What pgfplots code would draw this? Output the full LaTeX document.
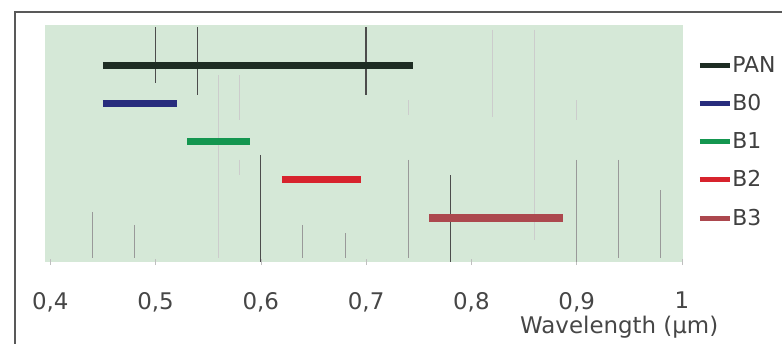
\documentclass[border=0pt]{standalone}
\usepackage{fontspec}
\setmainfont{DejaVu Sans}
\usepackage{pgfplots}
\pgfplotsset{compat=1.18}
\definecolor{bgc}{RGB}{213,232,215}
\definecolor{cpan}{RGB}{30,45,35}
\definecolor{cb0}{RGB}{40,45,125}
\definecolor{cb1}{RGB}{20,150,80}
\definecolor{cb2}{RGB}{215,35,45}
\definecolor{cb3}{RGB}{172,72,78}
\definecolor{txt}{RGB}{70,70,70}
\begin{document}
\begin{tikzpicture}[x=1bp,y=1bp]
\useasboundingbox (0,0) rectangle (782,343);
\draw[line width=2bp, color=black!65] (15,-10) -- (15,331) -- (800,331);
\begin{axis}[
  at={(45bp,81bp)}, anchor=south west,
  width=638bp, height=237bp, scale only axis,
  xmin=0.395, xmax=1.001, ymin=-0.15, ymax=6.05,
  axis background/.style={fill=bgc},
  axis line style={draw=none},
  xtick={0.4,0.5,0.6,0.7,0.8,0.9,1.0},
  xticklabels={0{,}4,0{,}5,0{,}6,0{,}7,0{,}8,0{,}9,1},
  ytick=\empty,
  tick align=center, major tick length=6bp,
  xtick style={color=black!25, line width=0.6bp},
  xtick pos=bottom,
  xticklabel style={font=\fontsize{23}{26}\selectfont, color=txt, anchor=north, inner sep=0pt, yshift=-27bp},
  xlabel={Wavelength (µm)},
  xlabel style={font=\fontsize{23}{26}\selectfont, color=txt, at={(axis description cs:0.9,0)}, anchor=center, yshift=-65bp},
  legend style={at={(axis description cs:1.022,0.87)}, anchor=north west, draw=none, fill=none, inner sep=0pt, row sep=22.25bp,
    font=\fontsize{22}{26}\selectfont, text=black!75,
    nodes={inner sep=0pt, text height=16bp, text depth=0bp}},
  legend cell align=left,
  legend image code/.code={\draw[#1, line width=5bp] (0bp,-1bp) -- (30bp,-1bp);},
  unbounded coords=jump,
  clip=true,
]
% background vertical lines (dark)
\addplot[forget plot, color=black!70, line width=1.3bp] coordinates {
 (0.5,5.99) (0.5,4.53) (nan,nan)
 (0.54,5.99) (0.54,4.22) (nan,nan)
 (0.6,2.65) (0.6,-0.15) (nan,nan)
 (0.7,5.99) (0.7,4.22) (nan,nan)
 (0.78,2.12) (0.78,-0.15)
};
% medium
\addplot[forget plot, color=black!40, line width=1bp] coordinates {
 (0.44,1.16) (0.44,-0.05) (nan,nan)
 (0.48,0.82) (0.48,-0.05) (nan,nan)
 (0.64,0.82) (0.64,-0.05) (nan,nan)
 (0.68,0.60) (0.68,-0.05) (nan,nan)
 (0.74,2.52) (0.74,-0.05) (nan,nan)
 (0.9,2.52) (0.9,-0.15) (nan,nan)
 (0.94,2.52) (0.94,-0.05) (nan,nan)
 (0.98,1.73) (0.98,-0.05)
};
% faint
\addplot[forget plot, color=black!20, line width=0.8bp] coordinates {
 (0.56,4.74) (0.56,-0.05) (nan,nan)
 (0.58,4.74) (0.58,3.56) (nan,nan)
 (0.58,2.52) (0.58,2.12) (nan,nan)
 (0.74,4.08) (0.74,3.69) (nan,nan)
 (0.82,5.92) (0.82,3.64) (nan,nan)
 (0.86,5.92) (0.86,0.42) (nan,nan)
 (0.9,4.08) (0.9,3.56)
};
% bands
\addplot[color=cpan, line width=7bp] coordinates {(0.45,5) (0.745,5)};
\addlegendentry{PAN}
\addplot[color=cb0, line width=7bp] coordinates {(0.45,4) (0.52,4)};
\addlegendentry{B0}
\addplot[color=cb1, line width=6.5bp] coordinates {(0.53,3) (0.59,3)};
\addlegendentry{B1}
\addplot[color=cb2, line width=7bp] coordinates {(0.62,2) (0.695,2)};
\addlegendentry{B2}
\addplot[color=cb3, line width=8bp] coordinates {(0.76,1) (0.887,1)};
\addlegendentry{B3}
\end{axis}
\end{tikzpicture}
\end{document}
